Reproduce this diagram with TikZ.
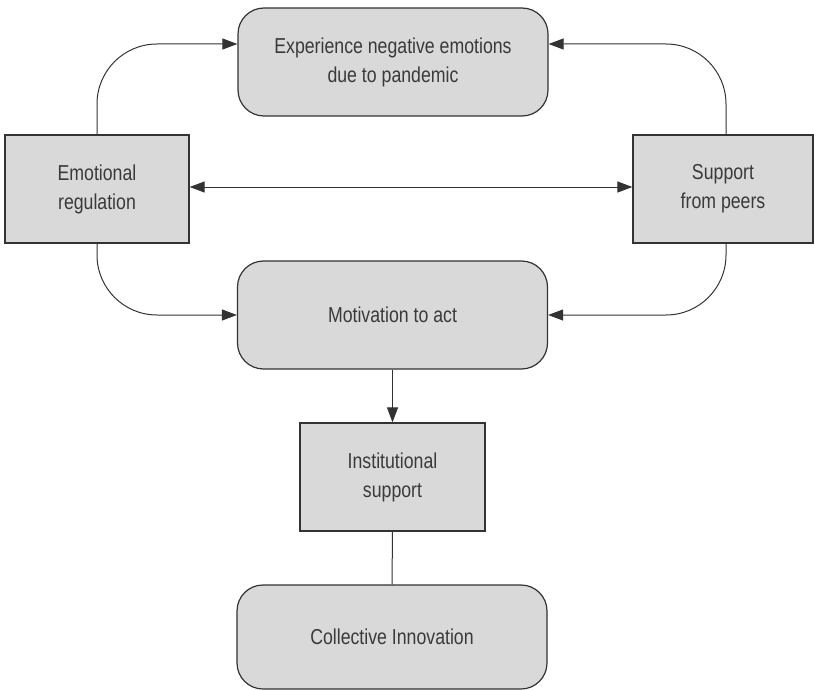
\documentclass[tikz,border=0pt]{standalone}
\usepackage{fontspec}
\setmainfont{Liberation Sans}[FakeStretch=0.82]
\usetikzlibrary{arrows.meta,positioning}
\definecolor{boxfill}{HTML}{D9D9D9}
\definecolor{boxline}{HTML}{333333}
\definecolor{inktext}{HTML}{3A3A3A}
\tikzset{
  base/.style={draw=boxline,fill=boxfill,line width=0.6pt,text=inktext,align=center,
    font=\fontsize{10.8}{14.5}\selectfont,inner sep=0pt},
  squarebox/.style={base,minimum height=54pt},
  roundbox/.style={base,rounded corners=13pt,minimum width=155pt,minimum height=54pt},
  flow/.style={-{Triangle[length=7.5pt,width=5.5pt]},line width=0.5pt,draw=boxline},
  link/.style={line width=0.5pt,draw=boxline},
}
\begin{document}
\begin{tikzpicture}[x=0.5pt,y=-0.5pt]
  \useasboundingbox (0,0) rectangle (814,690);
  % boxes
  \node[roundbox] (exp) at (393,62) {Experience negative emotions\\due to pandemic};
  \node[squarebox,minimum width=92pt] (emo) at (97,189) {Emotional\\regulation};
  \node[squarebox,minimum width=90pt] (sup) at (723,189) {Support\\from peers};
  \node[roundbox] (mot) at (392.5,315) {Motivation to act};
  \node[squarebox,minimum width=92.5pt] (inst) at (392.5,477) {Institutional\\support};
  \node[roundbox,minimum height=52pt] (coll) at (392,637) {Collective Innovation};
  % connectors
  \draw[flow,rounded corners=30pt] (emo.north) |- ([yshift=9pt]exp.west);
  \draw[flow,rounded corners=30pt] ([xshift=1.5pt]sup.north) |- ([yshift=9pt]exp.east);
  \draw[flow,rounded corners=30pt] (emo.south) |- (mot.west);
  \draw[flow,rounded corners=30pt] ([xshift=1.5pt]sup.south) |- (mot.east);
  \draw[flow,{Triangle[length=7.5pt,width=5.5pt]}-{Triangle[length=7.5pt,width=5.5pt]}]
    ([yshift=1pt]emo.east) -- ([yshift=1pt]sup.west);
  \draw[flow] (mot) -- (inst);
  \draw[link] (inst) -- (coll);
\end{tikzpicture}
\end{document}
